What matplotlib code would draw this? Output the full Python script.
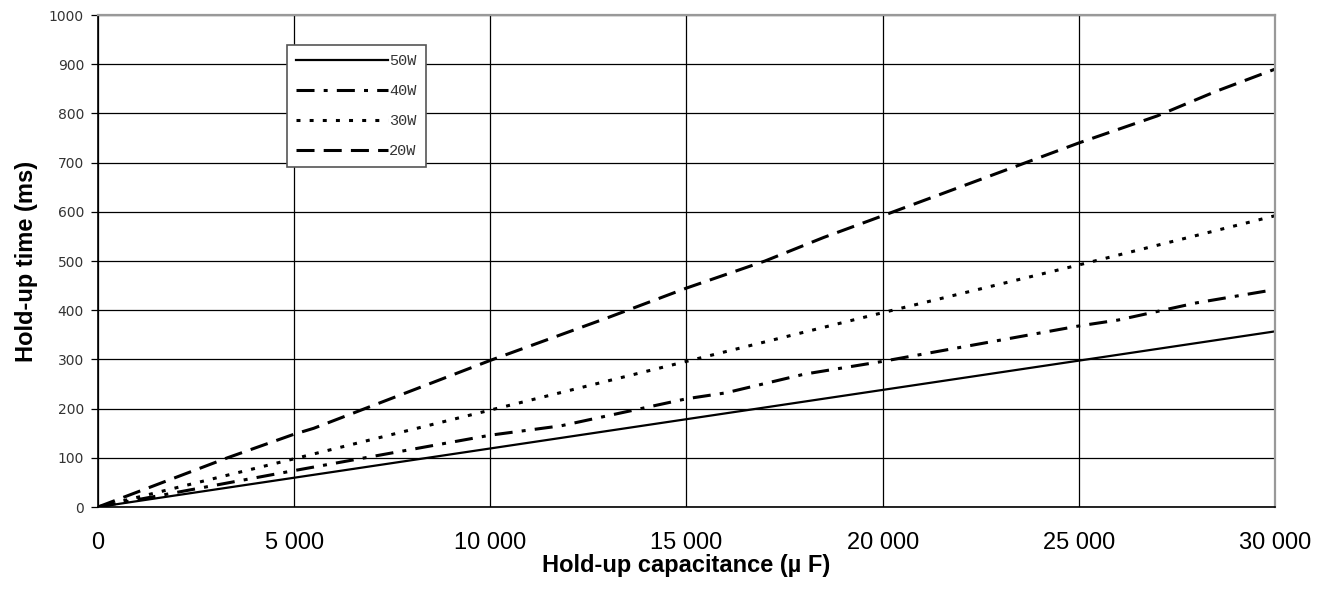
import matplotlib
matplotlib.use("Agg")
import matplotlib.pyplot as plt
from matplotlib.ticker import FuncFormatter

# Data
x_50w = [0, 30000]
y_50w = [0, 357]

x_40w = [0, 5000, 10000, 11800, 15000, 16000, 18000, 20000, 25000, 26000, 28000, 30000]
y_40w = [0, 74, 146, 165, 220, 232, 270, 296, 368, 380, 415, 442]

x_30w = [0, 5000, 10000, 15000, 20000, 25000, 30000]
y_30w = [0, 98, 197, 296, 395, 492, 592]

x_20w = [0, 3300, 5000, 5500, 10000, 13000, 15000, 17000, 18500, 20000, 25000, 27000, 28500, 30000]
y_20w = [0, 100, 148, 160, 298, 385, 445, 500, 548, 592, 740, 795, 845, 890]

labels = ["50W", "40W", "30W", "20W"]
x_ticks = [0, 5000, 10000, 15000, 20000, 25000, 30000]
y_ticks = list(range(0, 1001, 100))

fig = plt.figure(figsize=(13.29, 6.03), dpi=100)
ax = fig.add_axes([0.0737, 0.1592, 0.8857, 0.8159])

lw = 2.2
ax.plot(x_50w, y_50w, color="black", lw=1.6, linestyle="-", label=labels[0])
ax.plot(x_40w, y_40w, color="black", lw=lw, linestyle=(0, (5.9, 3.0, 1.3, 3.0)), label=labels[1])
ax.plot(x_30w, y_30w, color="black", lw=lw, linestyle=(0, (1.3, 3.0)), label=labels[2])
ax.plot(x_20w, y_20w, color="black", lw=lw, linestyle=(0, (5.9, 3.0)), label=labels[3])

ax.set_xlim(0, 30000)
ax.set_ylim(0, 1000)
ax.set_xticks(x_ticks)
ax.set_yticks(y_ticks)
ax.xaxis.set_major_formatter(FuncFormatter(lambda v, p: f"{int(v):,}".replace(",", " ")))

ax.grid(True, color="black", lw=0.9)
ax.set_axisbelow(True)

ax.tick_params(axis="x", length=0, pad=18, labelsize=17)
for t in ax.get_xticklabels():
    t.set_fontfamily("Liberation Sans")
ax.tick_params(axis="y", length=5, width=0.9, pad=5, labelsize=10, labelcolor="#333333")

for s in ["left", "bottom"]:
    ax.spines[s].set_color("black")
    ax.spines[s].set_linewidth(1.2)
for s in ["top", "right"]:
    ax.spines[s].set_color("#999999")
    ax.spines[s].set_linewidth(1.6)

ax.set_xlabel("Hold-up capacitance (µ F)", fontsize=17, fontweight="bold",
              family="Liberation Sans", labelpad=0)
ax.set_ylabel("Hold-up time (ms)", fontsize=17, fontweight="bold",
              family="Liberation Sans", labelpad=8)

leg = ax.legend(loc="upper left", bbox_to_anchor=(0.1606, 0.939), fancybox=False,
                edgecolor="#555555", framealpha=1, handlelength=6.0, handletextpad=0.1,
                labelspacing=1.05, borderpad=0.6, borderaxespad=0,
                prop={"family": "Liberation Mono", "size": 11})
leg.get_frame().set_linewidth(1.2)
for t in leg.get_texts():
    t.set_color("#333333")

fig.savefig("out.png", dpi=100)
